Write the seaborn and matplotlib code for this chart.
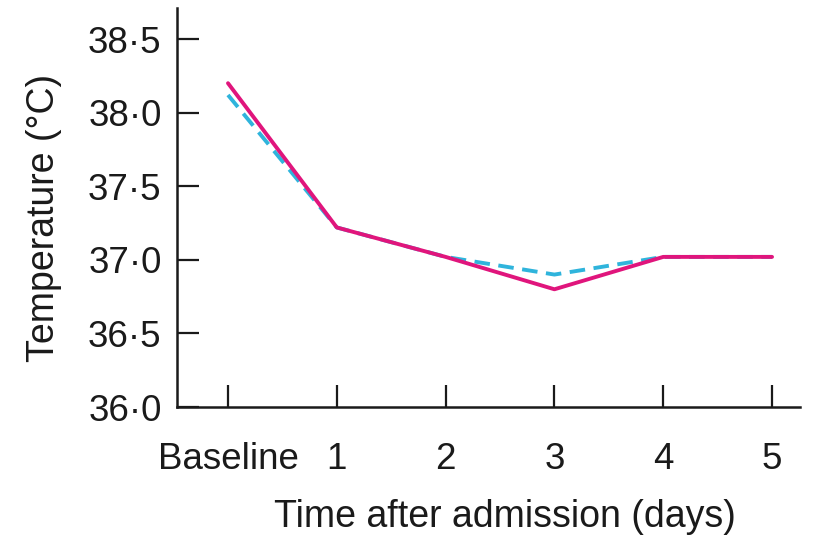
import numpy as np
import pandas as pd
import matplotlib
matplotlib.use("Agg")
import matplotlib.pyplot as plt
import seaborn as sns

# 数据
days = [0, 1, 2, 3, 4, 5]
day_labels = ["Baseline", "1", "2", "3", "4", "5"]
temp_solid = [38.20, 37.22, 37.02, 36.80, 37.02, 37.02]
temp_dashed = [38.12, 37.22, 37.02, 36.90, 37.02, 37.02]
y_ticks = [36.0, 36.5, 37.0, 37.5, 38.0, 38.5]

sns.set_style("white")
plt.rcParams["font.family"] = ["Liberation Sans", "DejaVu Sans"]

df = pd.DataFrame({
    "day": days * 2,
    "temp": temp_dashed + temp_solid,
    "group": ["dashed"] * len(days) + ["solid"] * len(days),
})

fig = plt.figure(figsize=(8.15, 5.42), dpi=100)
ax = fig.add_axes([0.217, 0.249, 0.765, 0.736])

sns.lineplot(
    data=df, x="day", y="temp", hue="group", style="group",
    palette={"dashed": "#2fb4dc", "solid": "#e0157c"},
    dashes={"dashed": (4, 2.2), "solid": ""},
    linewidth=2.8, legend=False, ax=ax,
)

ax.set_xlim(-0.47, 5.26)
ax.set_ylim(36.0, 38.71)
ax.set_xticks(days)
ax.set_xticklabels(day_labels)
ax.set_yticks(y_ticks)
ax.set_yticklabels([f"{v:.1f}".replace(".", "\u00b7") for v in y_ticks])

for s in ["top", "right"]:
    ax.spines[s].set_visible(False)
for s in ["left", "bottom"]:
    ax.spines[s].set_linewidth(1.8)
    ax.spines[s].set_color("#1a1a1a")

ax.tick_params(axis="both", direction="in", length=16, width=1.6,
               labelsize=26.5, colors="#1a1a1a", bottom=True, left=True)
ax.tick_params(axis="y", pad=11)
ax.tick_params(axis="x", pad=25)

ax.set_xlabel("Time after admission (days)", fontsize=27, labelpad=16,
              color="#1a1a1a")
ax.set_ylabel("Temperature (\u00b0C)", fontsize=27, labelpad=19,
              color="#1a1a1a")
ax.xaxis.label.set_x(0.526)
ax.yaxis.label.set_y(0.474)

plt.savefig("out.png", dpi=100)
plt.close()
